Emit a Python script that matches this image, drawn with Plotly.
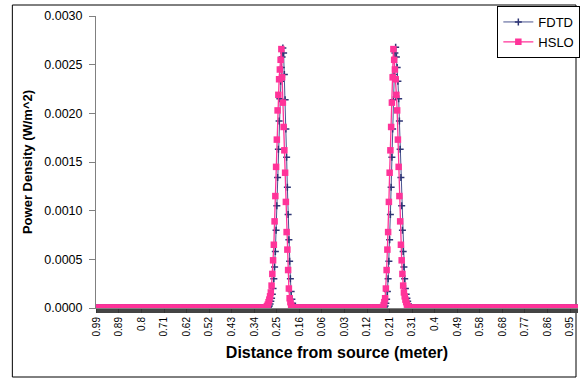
import plotly.graph_objects as go

# ---- data -------------------------------------------------------------
n_samples = 641
start_distance = -0.9853
distance_step = 0.003075

tick_labels = ["0.99", "0.89", "0.8", "0.71", "0.62", "0.52", "0.43", "0.34",
               "0.25", "0.16", "0.06", "0.03", "0.12", "0.21", "0.31", "0.4",
               "0.49", "0.58", "0.68", "0.77", "0.86", "0.95"]
label_every = 30

y_ticks = [0.0, 0.0005, 0.0010, 0.0015, 0.0020, 0.0025, 0.0030]

# pulse samples (W/m^2 x 1e-3) and the sample index where each pulse begins
hslo_peak1_start = 226
hslo_peak1 = [0.01, 0.02, 0.035, 0.06, 0.086, 0.12, 0.16, 0.23, 0.35, 0.49,
              0.65, 0.89, 1.15, 1.45, 1.73, 2.03, 2.19, 2.35, 2.45, 2.55,
              2.66,
              2.37, 2.11, 1.86, 1.62, 1.39, 1.09, 0.78, 0.60, 0.39, 0.20,
              0.10, 0.06, 0.03, 0.01]
hslo_peak2_start = 381
hslo_peak2 = [0.01, 0.03, 0.06, 0.10, 0.20, 0.39, 0.60, 0.78, 1.09, 1.39,
              1.62, 1.86, 2.11, 2.37,
              2.66,
              2.55, 2.45, 2.35, 2.19, 2.03, 1.73, 1.45, 1.15, 0.89, 0.65,
              0.49, 0.35, 0.23, 0.16, 0.12, 0.086, 0.06, 0.035, 0.02, 0.01]

fdtd_peak1_start = 229
fdtd_peak1 = [0.01, 0.02, 0.04, 0.07, 0.10, 0.14, 0.20, 0.30, 0.42, 0.58,
              0.80, 1.05, 1.34, 1.63, 1.92, 2.15, 2.33, 2.47, 2.58,
              2.67,
              2.62, 2.40, 2.14, 1.84, 1.55, 1.24, 0.96, 0.70, 0.48, 0.30,
              0.17, 0.09, 0.05, 0.02, 0.01]
fdtd_peak2_start = 383
fdtd_peak2 = [0.01, 0.02, 0.05, 0.09, 0.17, 0.30, 0.48, 0.70, 0.96, 1.24,
              1.55, 1.84, 2.14, 2.40, 2.62,
              2.68,
              2.58, 2.47, 2.33, 2.15, 1.92, 1.63, 1.34, 1.05, 0.80, 0.58,
              0.42, 0.30, 0.20, 0.14, 0.10, 0.07, 0.04, 0.02, 0.01]

# ---- build series --------------------------------------------------------
distance = [start_distance + i * distance_step for i in range(n_samples)]


def build(pulses):
    y = [0.0] * n_samples
    for st, vals in pulses:
        for k, v in enumerate(vals):
            y[st + k] = v * 1e-3
    return y


fdtd = build([(fdtd_peak1_start, fdtd_peak1), (fdtd_peak2_start, fdtd_peak2)])
hslo = build([(hslo_peak1_start, hslo_peak1), (hslo_peak2_start, hslo_peak2)])

tick_vals = distance[::label_every][:len(tick_labels)]

# ---- figure ------------------------------------------------------------
NAVY = "#2E3575"
PINK = "#FF3399"

fig = go.Figure()
fig.add_trace(go.Scatter(
    x=distance, y=fdtd, name="FDTD", mode="lines+markers",
    line=dict(color="#4A5490", width=1),
    marker=dict(symbol="cross-thin", size=5, color=NAVY,
                line=dict(color=NAVY, width=1.5)),
))
fig.add_trace(go.Scatter(
    x=distance, y=hslo, name="HSLO", mode="lines+markers",
    line=dict(color=PINK, width=1.3),
    marker=dict(symbol="square", size=6.5, color=PINK),
))

L, R, T, B = 96, 2, 16, 74
W, H = 582, 382
pw, ph = W - L - R, H - T - B


def px(xp):
    return (xp - L) / pw


def py(yp):
    return (T + ph - yp) / ph


fig.update_layout(
    width=W, height=H,
    margin=dict(l=L, r=R, t=T, b=B),
    paper_bgcolor="white", plot_bgcolor="white",
    font=dict(family="Liberation Sans, Arial, sans-serif", color="black"),
    showlegend=True,
    legend=dict(
        x=px(499), y=py(6), xanchor="left", yanchor="top",
        bgcolor="white", bordercolor="black", borderwidth=1,
        font=dict(size=13), itemwidth=30,
        tracegroupgap=0,
    ),
    shapes=[dict(type="rect", xref="paper", yref="paper",
                 x0=px(12), x1=px(578), y0=py(377), y1=py(5),
                 line=dict(color="black", width=1), layer="below")],
)

fig.update_xaxes(
    range=[distance[0] - distance_step / 2, distance[-1] + distance_step / 2],
    tickmode="array", tickvals=tick_vals, ticktext=tick_labels,
    tickangle=-90, tickfont=dict(size=10),
    ticks="outside", ticklen=4, tickcolor="#333333",
    minor=dict(tickmode="array", tickvals=distance, ticks="outside",
               ticklen=4, tickcolor="#444444", tickwidth=1),
    showline=True, linecolor="#808080", linewidth=1,
    showgrid=False, zeroline=False,
    title=dict(text="<b>Distance from source (meter)</b>",
               font=dict(size=16), standoff=11),
)
fig.update_yaxes(
    range=[0, 0.003],
    tickmode="array", tickvals=y_ticks, tickformat=".4f",
    tickfont=dict(size=12.5),
    ticks="outside", ticklen=6, tickcolor="#808080",
    ticklabelstandoff=4,
    showline=True, linecolor="#808080", linewidth=1,
    showgrid=False, zeroline=False,
    title=dict(text="<b>Power Density (W/m^2)</b>",
               font=dict(size=13), standoff=8),
)

fig.write_html("out.html")
